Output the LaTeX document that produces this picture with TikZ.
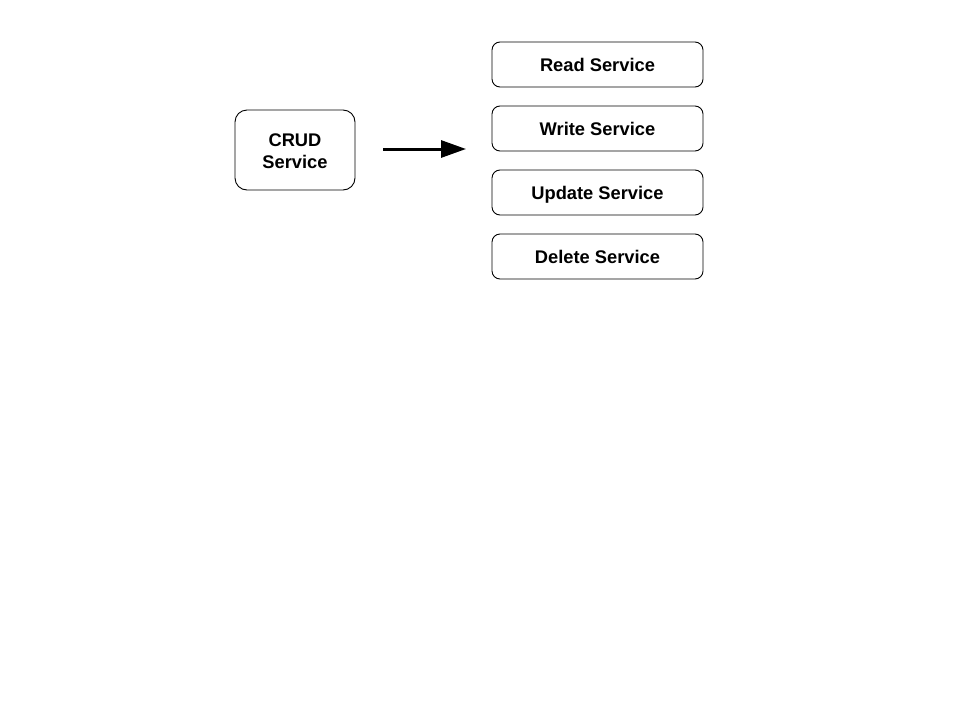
\documentclass[tikz,border=0pt]{standalone}
\usepackage{fontspec}
\setmainfont{Liberation Sans}
\usetikzlibrary{arrows.meta}
\begin{document}
\begin{tikzpicture}[x=1pt,y=-1pt,
  svc/.style={draw, line width=0.9pt, rounded corners=8pt, minimum width=211pt, minimum height=45pt, inner sep=0pt,
    text height=14pt, text depth=0pt, font=\fontsize{18.3}{21}\selectfont\bfseries},
  crud/.style={draw, line width=0.9pt, rounded corners=12pt, minimum width=120pt, minimum height=80pt, inner sep=0pt,
    text height=37pt, text depth=0pt, align=center, font=\fontsize{18.3}{22}\selectfont\bfseries},
  conn/.style={line width=3pt, -{Triangle[length=25pt,width=17pt]}}]
\useasboundingbox (0,0) rectangle (960,720);
\fill[white] (0,0) rectangle (960,720);
\node[crud] (crud) at (295,150) {CRUD\\Service};
\node[svc] (read) at (597.5,64.5) {Read Service};
\node[svc] (write) at (597.5,128.5) {Write Service};
\node[svc] (update) at (597.5,192.5) {Update Service};
\node[svc] (delete) at (597.5,256.5) {Delete Service};
\coordinate (a0) at (383,149);
\coordinate (a1) at (466,149);
\draw[conn] (a0) -- (a1);
\end{tikzpicture}
\end{document}
